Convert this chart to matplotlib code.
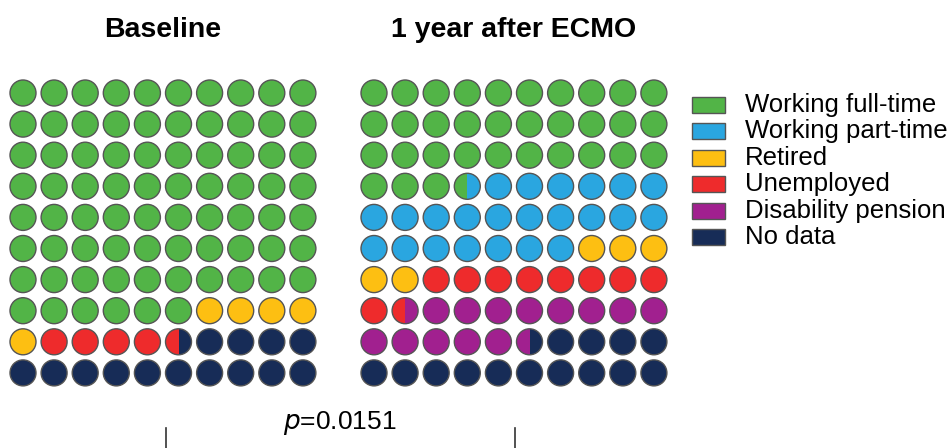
import matplotlib
matplotlib.use("Agg")
import matplotlib.pyplot as plt
from matplotlib.patches import Circle, Rectangle

plt.rcParams['font.family'] = ['Liberation Sans', 'DejaVu Sans']

# Employment status, percent of patients (100 dots per panel)
categories = ["Working full-time", "Working part-time", "Retired",
              "Unemployed", "Disability pension", "No data"]
colors = ["#52b447", "#2aa6e0", "#fdbf12", "#ee2b2c", "#a1208f", "#172c57"]
baseline = [76, 0, 5, 4.5, 0, 14.5]
one_year = [33.5, 23.5, 5, 9.5, 14, 14.5]
panel_titles = ["Baseline", "1 year after ECMO"]
p_text = "$\\it{p}$=0.0151"

W, H = 952, 448
fig = plt.figure(figsize=(W / 100, H / 100), dpi=100)
ax = fig.add_axes([0, 0, 1, 1])
ax.set_xlim(0, W)
ax.set_ylim(H, 0)
ax.axis("off")

ncols, nrows = 10, 10
step = 31.1
radius = 13.0
grid_left = [23, 374]
grid_top = 93


def draw_waffle(values, x0):
    cum = 0.0
    spans = []
    for v, c in zip(values, colors):
        spans.append((cum, cum + v, c))
        cum += v
    for i in range(nrows * ncols):
        r, col = divmod(i, ncols)
        cx = x0 + col * step
        cy = grid_top + r * step
        clip = Circle((cx, cy), radius, transform=ax.transData)
        for a, b, c in spans:
            lo, hi = max(a, i), min(b, i + 1)
            if hi <= lo:
                continue
            xa = cx - radius + (lo - i) * 2 * radius
            xb = cx - radius + (hi - i) * 2 * radius
            rect = Rectangle((xa, cy - radius), xb - xa, 2 * radius,
                             facecolor=c, edgecolor="none", zorder=2)
            ax.add_patch(rect)
            rect.set_clip_path(clip)
        ax.add_patch(Circle((cx, cy), radius, facecolor="none",
                            edgecolor="#555555", lw=1.0, zorder=3))


for vals, x0, title in zip([baseline, one_year], grid_left, panel_titles):
    draw_waffle(vals, x0)
    ax.text(x0 + 4.5 * step, 30, title, ha="center", va="center",
            fontsize=20.5, fontweight="bold", color="black")

# legend: colour swatch + label per category
leg_x, leg_y, leg_dy = 692, 105, 26.4
for k, (lab, c) in enumerate(zip(categories, colors)):
    y = leg_y + k * leg_dy
    ax.add_patch(Rectangle((leg_x, y - 8), 33, 16, facecolor=c,
                           edgecolor="#555555", lw=1.0))
    ax.text(leg_x + 53, y, lab, ha="left", va="center", fontsize=18.5)

# significance bracket
ax.text(340, 423, p_text, ha="center", va="center", fontsize=19)
for xb in [166, 515]:
    ax.plot([xb, xb], [428, 449], color="#333333", lw=1.2)

fig.savefig("out.png", dpi=100)
